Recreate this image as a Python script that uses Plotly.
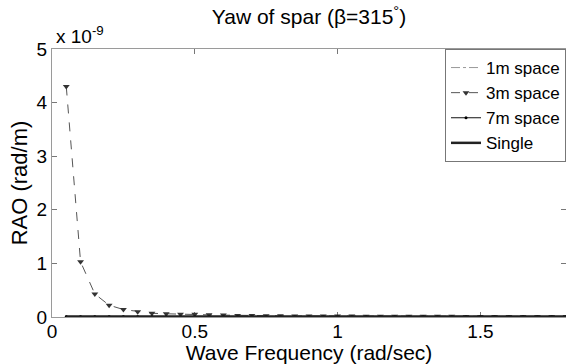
import plotly.graph_objects as go

freq = [0.05, 0.10, 0.15, 0.20, 0.25, 0.30, 0.35, 0.40, 0.45, 0.50,
        0.55, 0.60, 0.65, 0.70, 0.75, 0.80, 0.85, 0.90, 0.95, 1.00,
        1.05, 1.10, 1.15, 1.20, 1.25, 1.30, 1.35, 1.40, 1.45, 1.50,
        1.55, 1.60, 1.65, 1.70, 1.75, 1.80]

# RAO values in units of 1e-9 rad/m
rao_3m = [4.30, 1.03, 0.43, 0.22, 0.14, 0.10, 0.07, 0.06, 0.05, 0.05,
          0.04, 0.035, 0.03, 0.03, 0.025, 0.025, 0.02, 0.02, 0.02, 0.018,
          0.017, 0.016, 0.015, 0.014, 0.013, 0.013, 0.012, 0.012, 0.011, 0.011,
          0.010, 0.010, 0.010, 0.009, 0.009, 0.009]
rao_1m = [0.01] * 36
rao_7m = [0.01] * 36
rao_single = [0.01] * 36

scale = 1e-9
ytick_vals = [0, 1, 2, 3, 4, 5]
xtick_vals = [0, 0.5, 1, 1.5]
xtick_text = ["0", "0.5", "1", "1.5"]

fig = go.Figure()
fig.add_trace(go.Scatter(x=freq, y=[v * scale for v in rao_1m], name="1m space",
                         mode="lines", line=dict(color="#999999", width=1, dash="dashdot")))
fig.add_trace(go.Scatter(x=freq, y=[v * scale for v in rao_3m], name="3m space",
                         mode="lines+markers", line=dict(color="#555555", width=1, dash="dash"),
                         marker=dict(symbol="triangle-down", size=6, color="#333333")))
fig.add_trace(go.Scatter(x=freq, y=[v * scale for v in rao_7m], name="7m space",
                         mode="lines+markers", line=dict(color="#111111", width=1),
                         marker=dict(symbol="circle", size=3, color="#000000")))
fig.add_trace(go.Scatter(x=freq, y=[v * scale for v in rao_single], name="Single",
                         mode="lines", line=dict(color="#222222", width=2.5)))

axis_common = dict(showline=True, linecolor="#9a9a9a", linewidth=1, mirror="ticks",
                   ticks="inside", ticklen=5, tickcolor="#777777", showgrid=False,
                   zeroline=False, layer="below traces",
                   tickfont=dict(size=19, color="black"))

fig.update_layout(
    width=566, height=364,
    margin=dict(l=52, r=0, t=49, b=47),
    paper_bgcolor="white", plot_bgcolor="white",
    font=dict(family="Liberation Sans, Arial, sans-serif", color="black"),
    title=dict(text="Yaw of spar (β=315<sup>°</sup>)", x=0.546, xanchor="center",
               y=1 - 17 / 364, yanchor="middle", font=dict(size=21)),
    xaxis=dict(range=[0, 1.8], tickvals=xtick_vals, ticktext=xtick_text,
               ticklabelstandoff=-3,
               title=dict(text="Wave Frequency (rad/sec)", font=dict(size=21), standoff=0),
               **axis_common),
    yaxis=dict(range=[0, 5 * scale], tickvals=[v * scale for v in ytick_vals],
               ticktext=[str(v) for v in ytick_vals],
               title=dict(text="RAO (rad/m)", font=dict(size=22), standoff=2),
               **axis_common),
    legend=dict(x=1, xanchor="right", y=1.0, yanchor="top",
                bordercolor="#777777", borderwidth=1, bgcolor="white",
                font=dict(size=17), itemwidth=30, tracegroupgap=0),
    showlegend=True,
)

fig.add_annotation(text="x 10<sup>-9</sup>", xref="paper", yref="paper",
                   x=0, xanchor="left", y=1, yanchor="bottom", showarrow=False,
                   font=dict(size=19), xshift=2)

fig.write_html("out.html")
